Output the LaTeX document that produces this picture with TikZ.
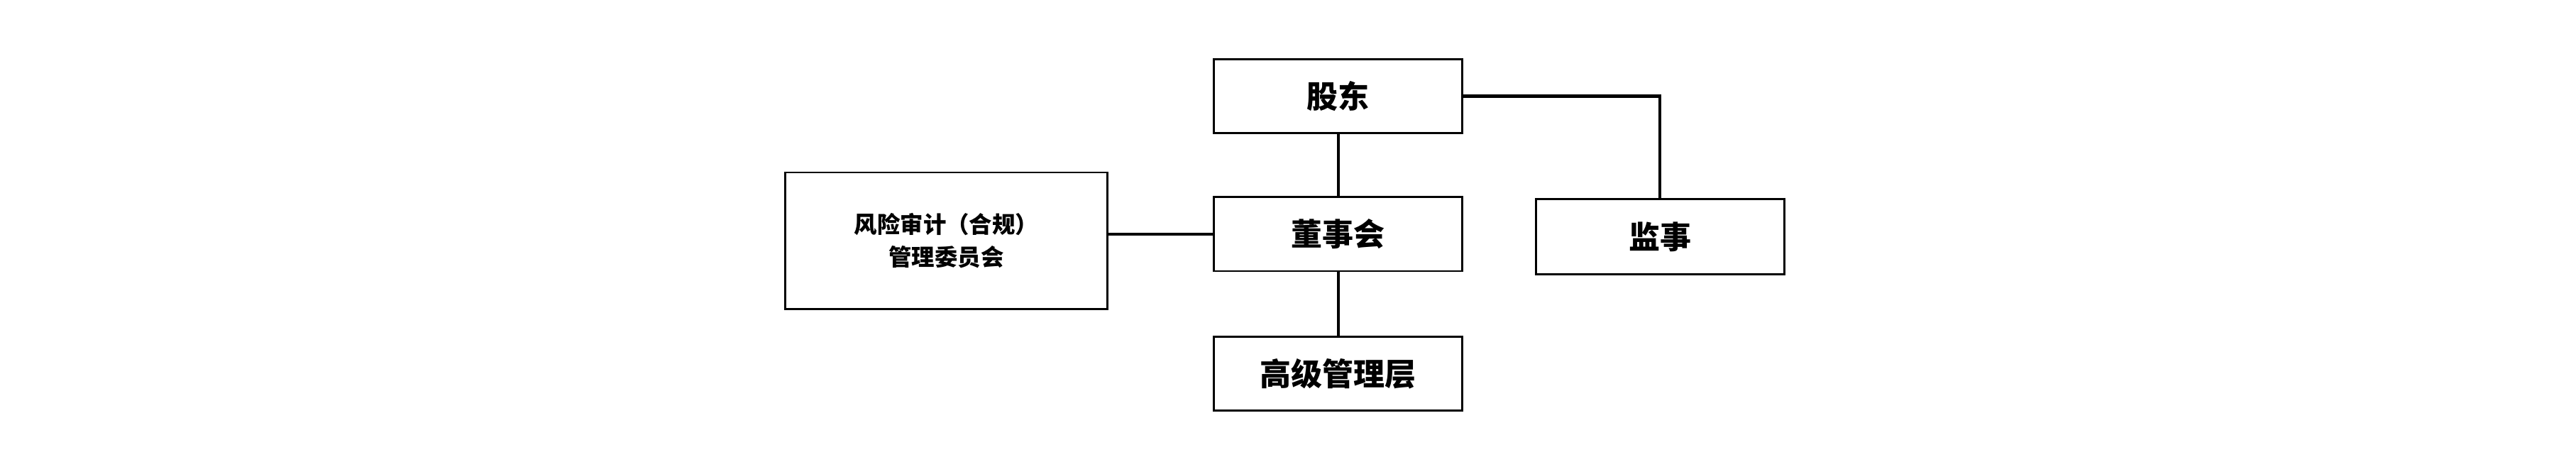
\documentclass[tikz,border=0pt]{standalone}
\usepackage{fontspec}
\newfontfamily\cjk{Noto Sans CJK SC}
\begin{document}
\begin{tikzpicture}[x=1pt,y=-1pt,
 box/.style={draw,line width=1.2pt,inner sep=0pt,font=\cjk\bfseries\fontsize{19}{23}\selectfont},
 ln/.style={line width=1.8pt}]
\useasboundingbox (0,0) rectangle (1568,281);
\node[box,minimum width=151,minimum height=45] (gd) at (814.5,58.5) {股东};
\node[box,minimum width=151,minimum height=45] (dsh) at (814.5,142.5) {董事会};
\node[box,minimum width=151,minimum height=45] (gj) at (814.5,227.5) {高级管理层};
\node[box,minimum width=151,minimum height=46] (js) at (1010.5,144) {监事};
\node[box,minimum width=196,minimum height=83,align=center,font=\cjk\bfseries\fontsize{14}{20}\selectfont] (fx) at (576,146.5) {风险审计（合规）\\管理委员会};
\draw[ln] (gd) -- (dsh);
\draw[ln] (dsh) -- (gj);
\draw[ln] (fx.east |- dsh) -- (dsh.west);
\draw[ln] (gd.east) -| (js.north);
\end{tikzpicture}
\end{document}
